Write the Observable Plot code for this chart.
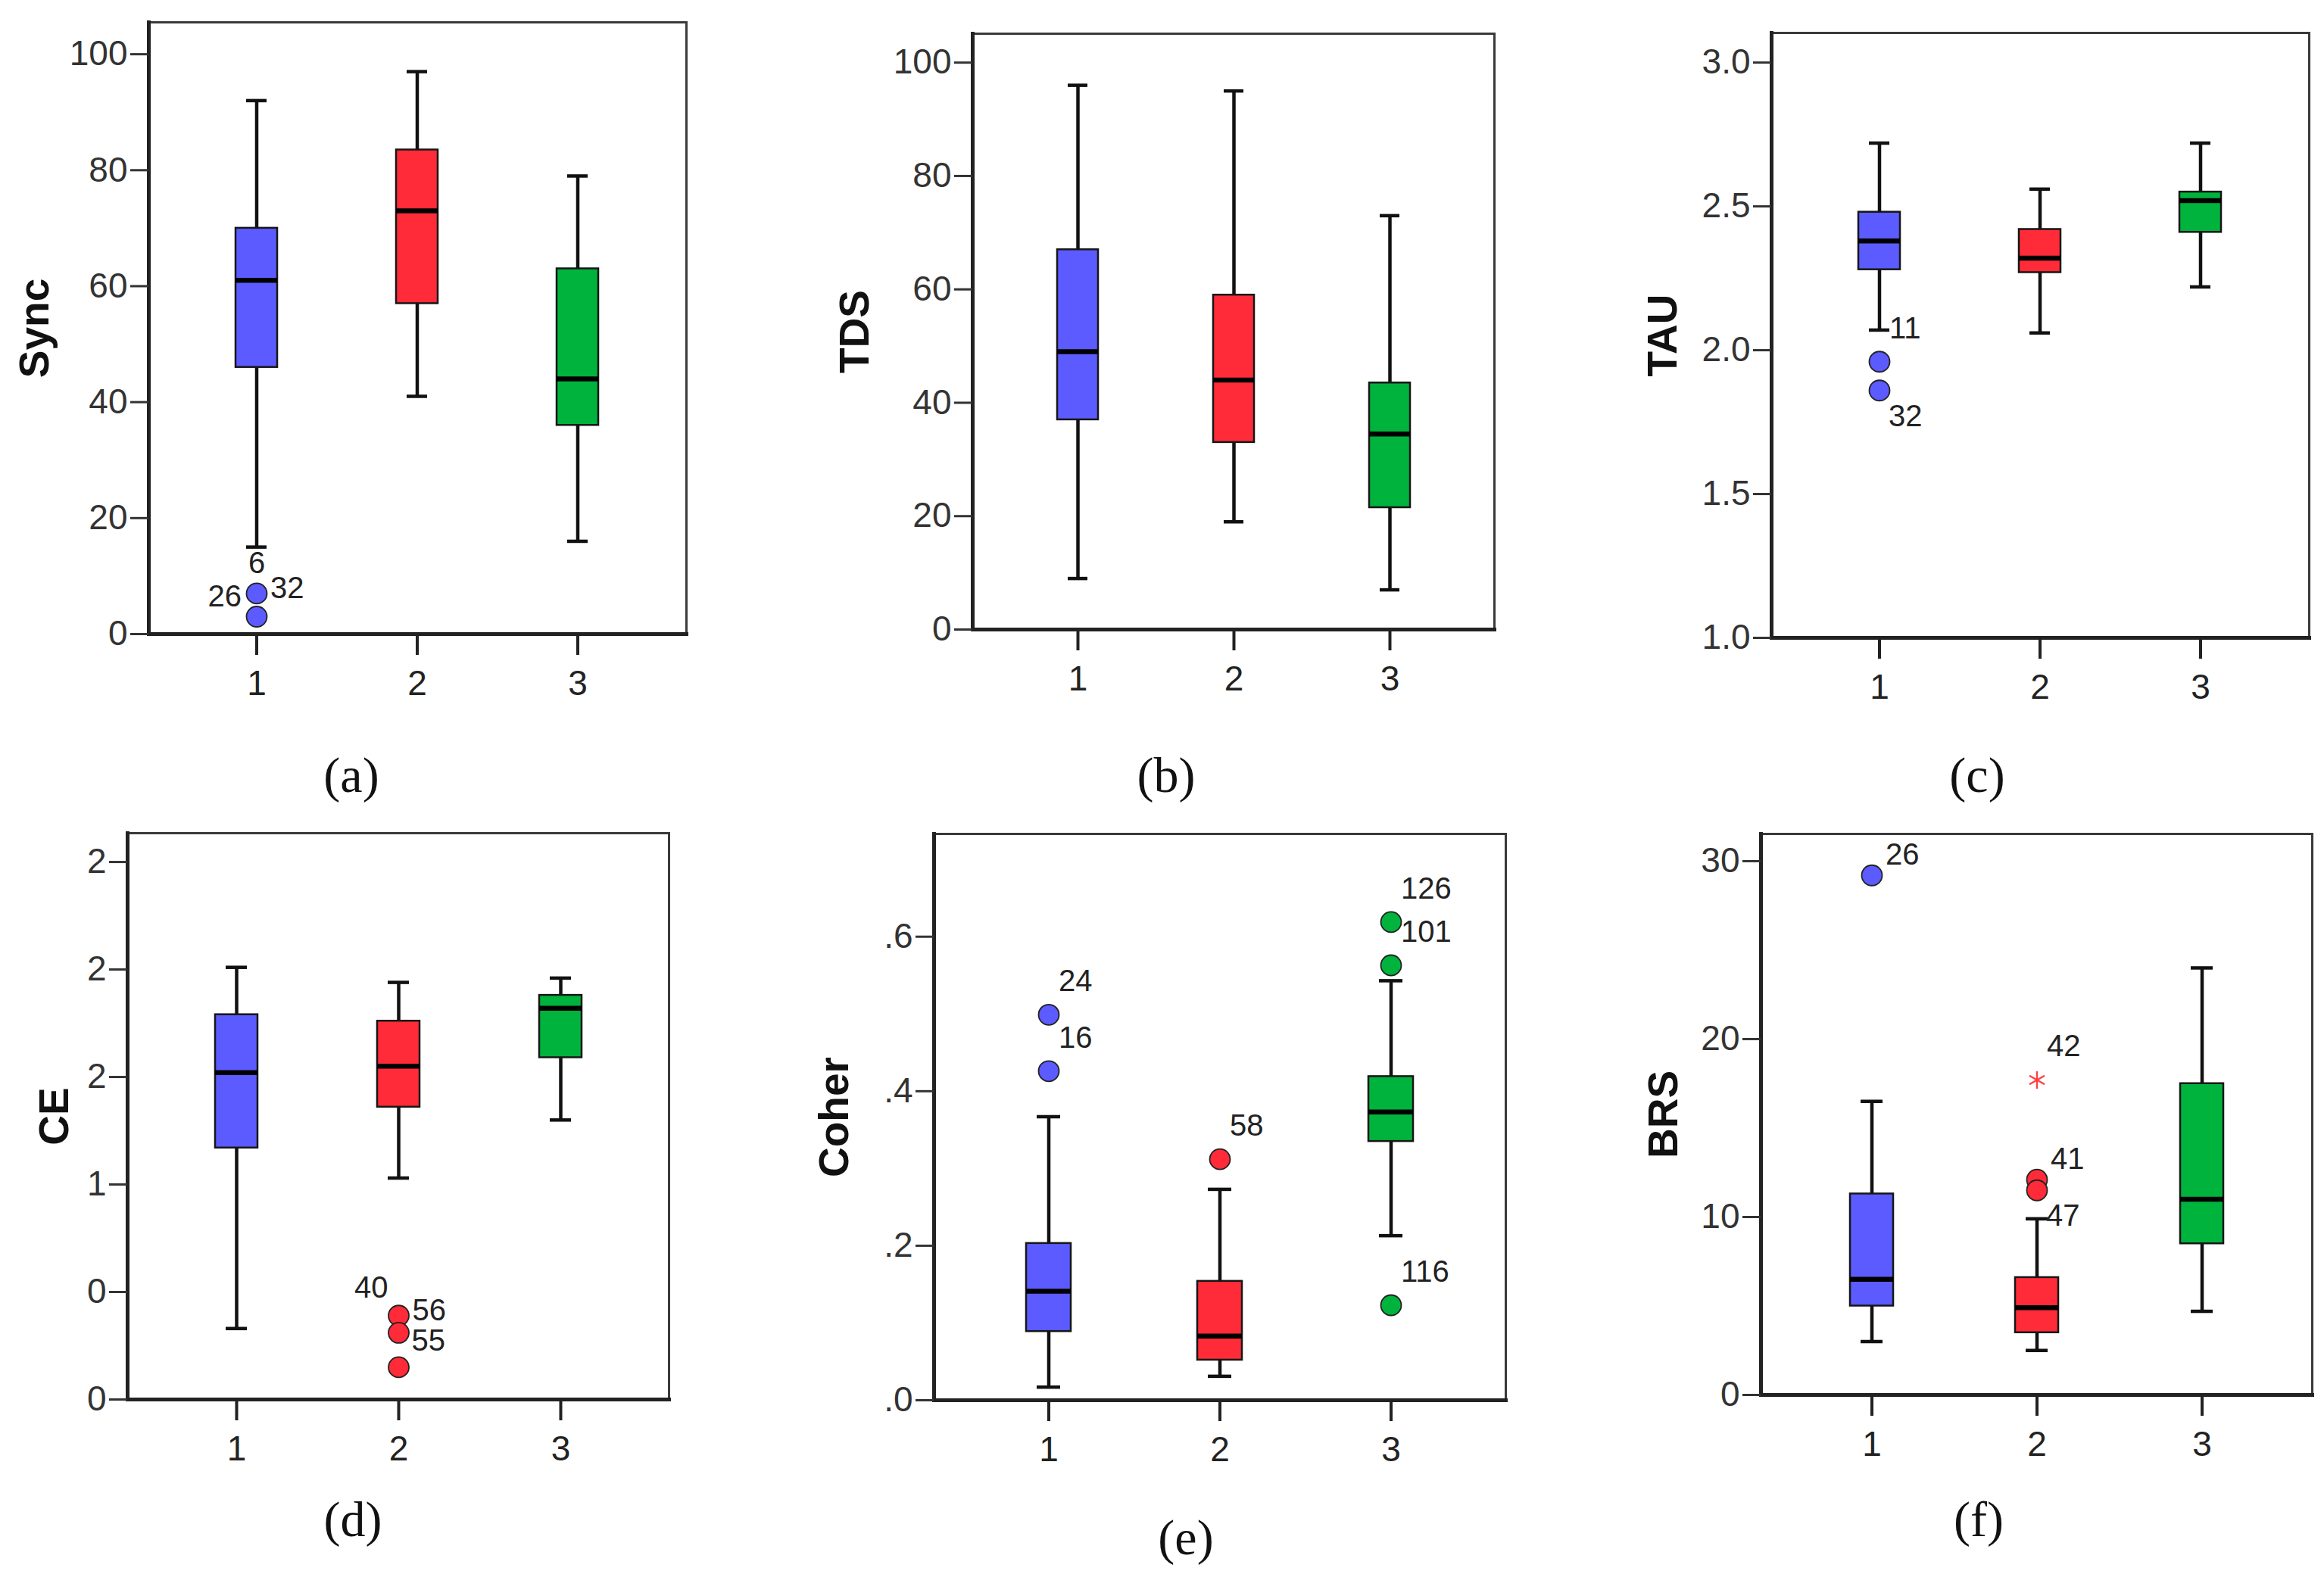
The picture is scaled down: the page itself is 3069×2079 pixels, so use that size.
<!DOCTYPE html>
<html>
<head>
<meta charset="utf-8">
<script src="https://cdn.jsdelivr.net/npm/d3@7"></script>
<script src="https://cdn.jsdelivr.net/npm/@observablehq/plot@0.6"></script>
<style>
  html, body { margin: 0; padding: 0; background: #fff; }
  #root { position: relative; width: 3069px; height: 2079px; overflow: hidden; background: #fff; }
  .cap { position: absolute; transform: translate(-50%, -50%); font-family: "Liberation Serif", "Times New Roman", serif; font-size: 66px; line-height: 1; color: #111; white-space: nowrap; }
</style>
</head>
<body>
<div id="root"></div>
<script>
// ---------- DATA ----------
const groups = [1, 2, 3];
const groupColors = ["#5b5bff", "#ff2b38", "#00b33c"];

// five-number summaries per group: [lower whisker, Q1, median, Q3, upper whisker]
const syncBoxes  = [[15, 46, 61, 70, 92], [41, 57, 73, 83.5, 97], [16, 36, 44, 63, 79]];
const tdsBoxes   = [[9, 37, 49, 67, 96], [19, 33, 44, 59, 95], [7, 21.5, 34.5, 43.5, 73]];
const tauBoxes   = [[2.07, 2.28, 2.38, 2.48, 2.72], [2.06, 2.27, 2.32, 2.42, 2.56], [2.22, 2.41, 2.52, 2.55, 2.72]];
const ceBoxes    = [[0.33, 1.17, 1.52, 1.79, 2.01], [1.03, 1.36, 1.55, 1.76, 1.94], [1.30, 1.59, 1.82, 1.88, 1.96]];
const coherBoxes = [[0.017, 0.089, 0.141, 0.203, 0.367], [0.031, 0.052, 0.083, 0.154, 0.273], [0.213, 0.335, 0.373, 0.419, 0.543]];
const brsBoxes   = [[3.0, 5.0, 6.5, 11.3, 16.5], [2.5, 3.5, 4.9, 6.6, 9.9], [4.7, 8.5, 11.0, 17.5, 24.0]];

// outliers: [group, value]
const syncOutliers  = [[1, 7], [1, 3]];
const tauOutliers   = [[1, 1.96], [1, 1.86]];
const ceOutliers    = [[2, 0.39], [2, 0.31], [2, 0.15]];
const coherOutliers = [[1, 0.499], [1, 0.426], [2, 0.312], [3, 0.619], [3, 0.563], [3, 0.123]];
const brsOutliers   = [[1, 29.2], [2, 12.1], [2, 11.5]];
const brsExtremes   = [[2, 17.7]];

// case labels: [group, value, text, side]
const syncLabels  = [[1, 7, "6", "n"], [1, 7, "26", "w"], [1, 7, "32", "e"]];
const tauLabels   = [[1, 1.96, "11", "ne"], [1, 1.86, "32", "se"]];
const ceLabels    = [[2, 0.39, "40", "nw"], [2, 0.39, "56", "e"], [2, 0.31, "55", "ese"]];
const coherLabels = [[1, 0.499, "24", "ne"], [1, 0.426, "16", "ne"], [2, 0.312, "58", "ne"],
                     [3, 0.619, "126", "ne"], [3, 0.563, "101", "ne"], [3, 0.123, "116", "ne"]];
const brsLabels   = [[1, 29.2, "26", "ene"], [2, 17.7, "42", "ne"], [2, 12.1, "41", "ene"], [2, 11.5, "47", "se"]];

// axis ticks and their printed labels
const syncTicks = [0, 20, 40, 60, 80, 100];
const syncTickLabels = ["0", "20", "40", "60", "80", "100"];
const tdsTicks = [0, 20, 40, 60, 80, 100];
const tdsTickLabels = ["0", "20", "40", "60", "80", "100"];
const tauTicks = [1.0, 1.5, 2.0, 2.5, 3.0];
const tauTickLabels = ["1.0", "1.5", "2.0", "2.5", "3.0"];
const ceTicks = [0, 0.5, 1, 1.5, 2, 2.5];
const ceTickLabels = ["0", "0", "1", "2", "2", "2"];
const coherTicks = [0, 0.2, 0.4, 0.6];
const coherTickLabels = [".0", ".2", ".4", ".6"];
const brsTicks = [0, 10, 20, 30];
const brsTickLabels = ["0", "10", "20", "30"];
const xTickLabels = ["1", "2", "3"];

const titles = ["Sync", "TDS", "TAU", "CE", "Coher", "BRS"];
const captions = ["(a)", "(b)", "(c)", "(d)", "(e)", "(f)"];

// ---------- STYLE / LAYOUT ----------
const labelSides = {
  n:   {textAnchor: "middle", dx: 0,   dy: -40},
  w:   {textAnchor: "end",    dx: -20, dy: 4},
  e:   {textAnchor: "start",  dx: 18,  dy: -7},
  ne:  {textAnchor: "start",  dx: 13,  dy: -44},
  ene: {textAnchor: "start",  dx: 18,  dy: -27},
  se:  {textAnchor: "start",  dx: 12,  dy: 34},
  nw:  {textAnchor: "end",    dx: -14, dy: -37},
  ese: {textAnchor: "start",  dx: 17,  dy: 11}
};

const root = document.getElementById("root");

function panel(cfg) {
  const {boxes, outliers = [], extremes = [], labels = [], ticks, tickLabels, yDomain, title, L, R, T, B, titleX, caption, capX, capY} = cfg;
  const boxRows = groups.map((g, i) => ({g, lo: boxes[i][0], q1: boxes[i][1], med: boxes[i][2], q3: boxes[i][3], hi: boxes[i][4]}));
  const outRows = outliers.map(([g, v]) => ({g, v}));
  const extRows = extremes.map(([g, v]) => ({g, v}));
  const labRows = labels.map(([g, v, t, side]) => ({g, v, t, side}));
  const mL = 200, mR = 16, mT = 20, mB = 110;

  const labelMarks = Object.keys(labelSides).map(side => {
    const rows = labRows.filter(d => d.side === side);
    if (!rows.length) return null;
    return Plot.text(rows, {x: "g", y: "v", text: "t", fontSize: 40, fill: "#222", lineAnchor: "middle", ...labelSides[side]});
  }).filter(Boolean);

  const chart = Plot.plot({
    width: R - L + mL + mR,
    height: B - T + mT + mB,
    marginLeft: mL, marginRight: mR, marginTop: mT, marginBottom: mB,
    style: {fontFamily: "'Liberation Sans', Arial, sans-serif", background: "transparent", overflow: "visible"},
    x: {type: "band", domain: groups, paddingInner: 0.74, paddingOuter: 0.537},
    y: {domain: yDomain},
    color: {type: "identity"},
    marks: [
      Plot.frame({stroke: "#3a3a3a", strokeWidth: 3}),
      Plot.frame({anchor: "left", stroke: "#222", strokeWidth: 5}),
      Plot.frame({anchor: "bottom", stroke: "#222", strokeWidth: 5}),
      Plot.axisY({ticks, tickFormat: d => tickLabels[ticks.indexOf(d)], tickSize: 24, tickPadding: 4, fontSize: 46, color: "#333", strokeWidth: 3, label: null}),
      Plot.axisX({ticks: groups, tickFormat: d => xTickLabels[groups.indexOf(d)], tickSize: 28, tickPadding: 20, fontSize: 46, color: "#222", strokeWidth: 4, label: null}),
      Plot.text([title], {frameAnchor: "left", text: d => d, rotate: -90, textAnchor: "middle", lineAnchor: "middle", dx: -(L - titleX), fontSize: 55, fontWeight: "bold", fill: "#111"}),
      Plot.ruleX(boxRows, {x: "g", y1: "lo", y2: "hi", stroke: "#111", strokeWidth: 4.5}),
      Plot.tickY(boxRows, {x: "g", y: "lo", insetLeft: 14, insetRight: 14, stroke: "#111", strokeWidth: 4.5}),
      Plot.tickY(boxRows, {x: "g", y: "hi", insetLeft: 14, insetRight: 14, stroke: "#111", strokeWidth: 4.5}),
      Plot.barY(boxRows, {x: "g", y1: "q1", y2: "q3", fill: d => groupColors[d.g - 1], stroke: "#161616", strokeWidth: 2.5}),
      Plot.tickY(boxRows, {x: "g", y: "med", stroke: "#000", strokeWidth: 6.5}),
      Plot.dot(outRows, {x: "g", y: "v", r: 13.5, fill: d => groupColors[d.g - 1], stroke: "#222", strokeWidth: 1.8}),
      Plot.dot(extRows, {x: "g", y: "v", r: 11, symbol: "asterisk", stroke: "#ff4040", strokeWidth: 2.4}),
      ...labelMarks
    ]
  });
  chart.style.position = "absolute";
  chart.style.left = (L - mL) + "px";
  chart.style.top = (T - mT) + "px";
  root.appendChild(chart);

  const cap = document.createElement("div");
  cap.className = "cap";
  cap.textContent = caption;
  cap.style.left = capX + "px";
  cap.style.top = (capY - 6) + "px";
  root.appendChild(cap);
}

panel({boxes: syncBoxes, outliers: syncOutliers, labels: syncLabels, ticks: syncTicks, tickLabels: syncTickLabels,
  yDomain: [0, 105.5], title: titles[0], L: 196, R: 906, T: 29, B: 837, titleX: 46, caption: captions[0], capX: 464, capY: 1030});
panel({boxes: tdsBoxes, ticks: tdsTicks, tickLabels: tdsTickLabels,
  yDomain: [0, 105.1], title: titles[1], L: 1284, R: 1973, T: 44, B: 831, titleX: 1129, caption: captions[1], capX: 1540, capY: 1030});
panel({boxes: tauBoxes, outliers: tauOutliers, labels: tauLabels, ticks: tauTicks, tickLabels: tauTickLabels,
  yDomain: [1.0, 3.103], title: titles[2], L: 2339, R: 3049, T: 43, B: 842, titleX: 2196, caption: captions[2], capX: 2611, capY: 1030});
panel({boxes: ceBoxes, outliers: ceOutliers, labels: ceLabels, ticks: ceTicks, tickLabels: ceTickLabels,
  yDomain: [0, 2.634], title: titles[3], L: 168, R: 883, T: 1100, B: 1848, titleX: 72, caption: captions[3], capX: 466, capY: 2013});
panel({boxes: coherBoxes, outliers: coherOutliers, labels: coherLabels, ticks: coherTicks, tickLabels: coherTickLabels,
  yDomain: [0, 0.733], title: titles[4], L: 1233, R: 1988, T: 1101, B: 1849, titleX: 1102, caption: captions[4], capX: 1566, capY: 2037});
panel({boxes: brsBoxes, outliers: brsOutliers, extremes: brsExtremes, labels: brsLabels, ticks: brsTicks, tickLabels: brsTickLabels,
  yDomain: [0, 31.53], title: titles[5], L: 2325, R: 3053, T: 1101, B: 1842, titleX: 2197, caption: captions[5], capX: 2613, capY: 2013});
</script>
</body>
</html>
